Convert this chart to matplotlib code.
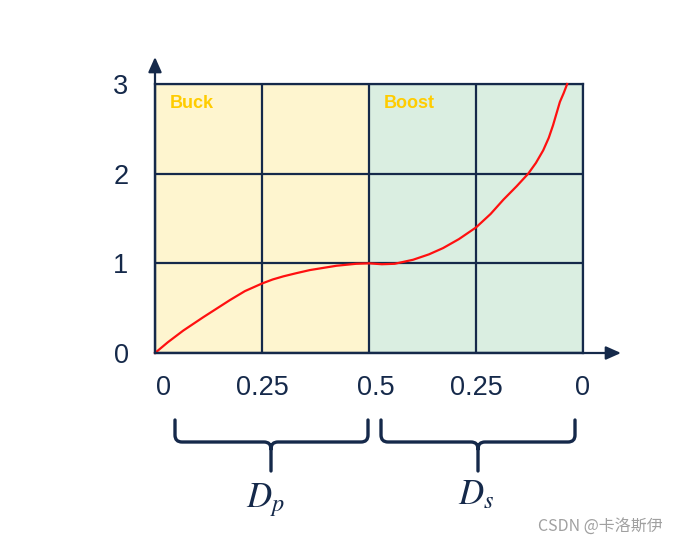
import matplotlib
matplotlib.use("Agg")
import matplotlib.pyplot as plt
from matplotlib.path import Path
from matplotlib.patches import PathPatch

# ---- data ----
duty_pos = [0, 0.03, 0.066, 0.113, 0.175, 0.21, 0.25, 0.275, 0.30, 0.33,
            0.362, 0.424, 0.47, 0.5, 0.53, 0.56, 0.603, 0.64, 0.673, 0.71,
            0.75, 0.784, 0.814, 0.845, 0.872, 0.89, 0.907, 0.92, 0.93,
            0.946, 0.955, 0.963]
gain = [0, 0.12, 0.25, 0.40, 0.59, 0.69, 0.775, 0.82, 0.855, 0.89,
        0.925, 0.973, 0.995, 1.0, 0.99, 0.995, 1.04, 1.10, 1.17, 1.27,
        1.40, 1.55, 1.71, 1.86, 2.0, 2.12, 2.26, 2.40, 2.54,
        2.80, 2.90, 3.0]
x_grid = [0, 0.25, 0.5, 0.75, 1.0]
x_tick_pos = [0.02, 0.25, 0.515, 0.75, 1.0]
x_tick_labels = ["0", "0.25", "0.5", "0.25", "0"]
y_ticks = [0, 1, 2, 3]
regions = ["Buck", "Boost"]

NAVY = "#15294A"
W, H = 689, 546
fig = plt.figure(figsize=(W / 100, H / 100), dpi=100)
plt.rcParams["mathtext.fontset"] = "stix"
ax = fig.add_axes([155 / W, 1 - 353 / H, 428 / W, 269 / H])
ax.set_xlim(0, 1)
ax.set_ylim(0, 3)
ax.axvspan(0, 0.5, color="#FEF5CF", zorder=0)
ax.axvspan(0.5, 1, color="#DAEEE1", zorder=0)
ax.set_xticks(x_grid)
ax.set_yticks(y_ticks)
ax.grid(True, color=NAVY, lw=1.6, zorder=1)
ax.set_axisbelow(False)
for s in ax.spines.values():
    s.set_color(NAVY)
    s.set_linewidth(1.6)
ax.tick_params(length=0, labelbottom=False)
ax.set_yticklabels([str(t) for t in y_ticks], fontsize=19.5, color=NAVY,
                   family="Liberation Sans")
ax.tick_params(axis="y", pad=19)
ax.plot(duty_pos, gain, color="#FF1010", lw=1.6, zorder=3, clip_on=False,
        solid_joinstyle="round")

ax.text(0.035, 2.78, regions[0], color="#FFCC00", fontsize=13,
        fontweight="bold", va="center", ha="left", family="Liberation Sans")
ax.text(0.535, 2.78, regions[1], color="#FFCC00", fontsize=13,
        fontweight="bold", va="center", ha="left", family="Liberation Sans")

# overlay in pixel coords for annotations
ov = fig.add_axes([0, 0, 1, 1], facecolor="none")
ov.set_xlim(0, W)
ov.set_ylim(H, 0)
ov.axis("off")

for xp, lab in zip(x_tick_pos, x_tick_labels):
    ov.text(155 + xp * 428, 388, lab, fontsize=19.5, color=NAVY,
            ha="center", va="center", family="Liberation Sans")

arrow_kw = dict(arrowstyle="-|>,head_length=0.45,head_width=0.2",
                color=NAVY, lw=1.6, mutation_scale=20, shrinkA=0, shrinkB=0)
ov.annotate("", xy=(621, 353), xytext=(155, 353), arrowprops=arrow_kw)
ov.annotate("", xy=(155, 57), xytext=(155, 353), arrowprops=arrow_kw)


def brace(x0, x1, xc, ytop=420, yh=442, ybot=471, r=7):
    verts = [(x0, ytop), (x0, yh - r), (x0, yh), (x0 + r, yh),
             (xc - r, yh), (xc, yh), (xc, yh + r), (xc, ybot),
             (x1, ytop), (x1, yh - r), (x1, yh), (x1 - r, yh),
             (xc + r, yh), (xc, yh), (xc, yh + r)]
    codes = [Path.MOVETO, Path.LINETO, Path.CURVE3, Path.CURVE3,
             Path.LINETO, Path.CURVE3, Path.CURVE3, Path.LINETO,
             Path.MOVETO, Path.LINETO, Path.CURVE3, Path.CURVE3,
             Path.LINETO, Path.CURVE3, Path.CURVE3]
    ov.add_patch(PathPatch(Path(verts, codes), fill=False, ec=NAVY, lw=2.4,
                           capstyle="round", joinstyle="round"))


brace(175, 368, 271)
brace(381, 575, 478)

ov.text(265, 500, r"$D_p$", fontsize=25, color=NAVY, ha="center", va="center")
ov.text(476, 494, r"$D_s$", fontsize=25, color=NAVY, ha="center", va="center")

ov.text(538, 526, "CSDN @卡洛斯伊", fontsize=11.5, color="#A0A0A0",
        ha="left", va="center", family=["Noto Sans CJK SC", "DejaVu Sans"])

fig.savefig("out.png", dpi=100)
